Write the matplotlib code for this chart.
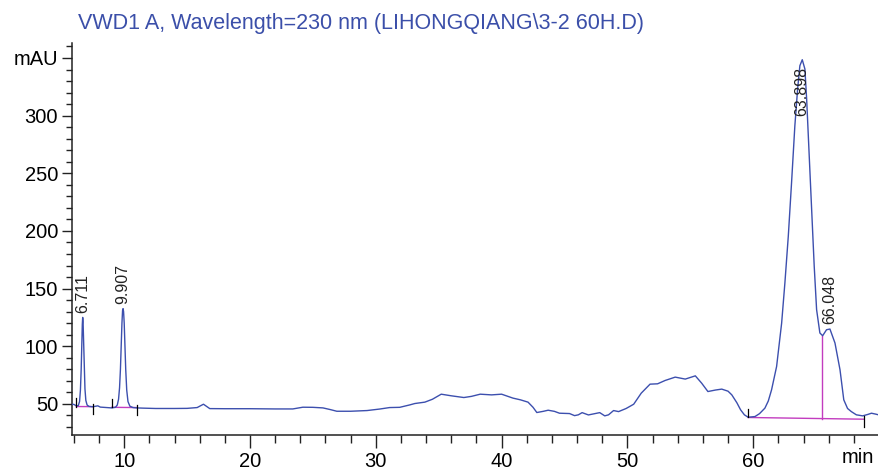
import matplotlib
matplotlib.use("Agg")
import matplotlib.pyplot as plt
from matplotlib.ticker import MultipleLocator, FixedLocator

plt.rcParams['font.family'] = ['Liberation Sans', 'DejaVu Sans']

title = "VWD1 A, Wavelength=230 nm (LIHONGQIANG\\3-2 60H.D)"

# chromatogram trace (time in min, signal in mAU)
time = [5.85, 6.0, 6.2, 6.35, 6.45, 6.52, 6.58, 6.63, 6.67, 6.70, 6.73, 6.77, 6.82,
        6.88, 6.95, 7.05, 7.2, 7.5, 7.9, 8.1, 8.6, 9.0, 9.3, 9.45, 9.55, 9.63, 9.70,
        9.76, 9.82, 9.87, 9.91, 9.95, 10.0, 10.06, 10.12, 10.2, 10.3, 10.45, 10.7,
        11.0, 11.5, 12.5, 14.0, 15.0, 15.8, 16.3, 16.8, 18.0, 20.0, 20.8, 22.0, 23.4,
        24.2, 25.0, 25.8, 26.4, 26.9, 28.0, 29.3, 30.3, 31.1, 31.9, 32.7, 33.1, 33.9,
        34.5, 35.2, 36.0, 37.0, 37.6, 38.3, 39.2, 40.0, 40.5, 40.9, 41.5, 42.1, 42.5,
        42.8, 43.3, 43.7, 44.2, 44.6, 45.4, 45.8, 46.1, 46.4, 46.9, 47.4, 47.8, 48.2,
        48.5, 48.9, 49.3, 49.9, 50.5, 51.1, 51.8, 52.4, 53.0, 53.8, 54.6, 55.4, 55.9,
        56.4, 57.0, 57.5, 58.0, 58.3, 58.7, 59.0, 59.3, 59.6, 60.14, 60.5, 60.93,
        61.2, 61.46, 61.86, 62.26, 62.52, 62.79, 63.05, 63.31, 63.53, 63.71, 63.9,
        64.11, 64.25, 64.43, 64.64, 64.85, 65.04, 65.3, 65.52, 65.83, 66.1, 66.5,
        66.9, 67.2, 67.5, 67.8, 68.2, 68.7, 69.1, 69.4, 69.7, 70.0]
signal = [49.7, 49.5, 48.3, 48.5, 52, 62, 80, 103, 119, 125, 121, 105, 82,
          63, 53, 49, 47.8, 47.5, 48.3, 47.2, 46.8, 46.5, 47, 49, 54, 64, 80,
          100, 120, 131, 132.6, 130, 120, 100, 80, 62, 52, 48, 46.8,
          46.5, 46.3, 46, 46, 46.1, 46.8, 49.7, 45.9, 45.8, 45.8, 45.7, 45.6, 45.6,
          47.1, 47, 46.5, 45, 43.6, 43.6, 44.2, 45.5, 46.8, 47, 49.1, 50.3, 51.5,
          54, 58.4, 57, 55.5, 56.5, 58.4, 57.8, 58.4, 56.5, 55, 53.5, 51.5, 47,
          42.5, 43.5, 44.5, 43.5, 41.9, 41.6, 39.8, 40.5, 42.4, 40.4, 41.5, 42.4, 39.6,
          40.5, 44.2, 43.3, 46, 49.7, 59.3, 67.1, 67.4, 70.3, 73.2, 71.5, 74.3, 68,
          60.7, 62, 62.8, 61, 57.8, 51, 44.8, 40.5, 38.4, 39.0, 41.5, 46.3,
          52.5, 62.2, 82.4, 120, 155, 195.5, 242, 291, 323, 343.3, 348.5,
          340.4, 314, 270.9, 218.7, 169.4, 131.7, 111.5, 109.1, 114.3, 114.9, 102.8,
          79.6, 53.5, 46, 43.3, 40.5, 39.6, 40.8, 41.9, 41.2, 40.4]

# peak annotations
peak_labels = ["6.711", "9.907", "63.898", "66.048"]
peak_times = [6.711, 9.907, 63.898, 66.048]
label_y = [129, 137, 342, 119]

# integration baselines: (start t, start mAU, end t, end mAU)
base_start_t = [6.2, 9.0, 59.6]
base_start_v = [47.7, 47.0, 38.2]
base_end_t = [7.5, 11.0, 68.8]
base_end_v = [47.6, 46.8, 36.7]
drop_t = 65.5
drop_top = 109.1

blue = '#3c4fae'
magenta = '#c23cbf'

fig = plt.figure(figsize=(8.79, 4.71), dpi=100)
ax = fig.add_axes([72/879, 36/471, 807/879, 392/471])

ax.plot(time, signal, color=blue, lw=1.0, zorder=3)

for s_t, s_v, e_t, e_v in zip(base_start_t, base_start_v, base_end_t, base_end_v):
    ax.plot([s_t, e_t], [s_v, e_v], color=magenta, lw=1.0, zorder=2)
    ax.plot([s_t, s_t], [s_v, s_v + 7.5], color='black', lw=0.9, zorder=4)
    ax.plot([e_t, e_t], [e_v + 2.5, e_v - 6.5], color='black', lw=0.9, zorder=4)

# drop line between the fused peaks
s_t, s_v, e_t, e_v = base_start_t[2], base_start_v[2], base_end_t[2], base_end_v[2]
drop_base = s_v + (e_v - s_v) * (drop_t - s_t) / (e_t - s_t)
ax.plot([drop_t, drop_t], [drop_base, drop_top], color=magenta, lw=1.0, zorder=2)

for lab, t, y in zip(peak_labels, peak_times, label_y):
    va = 'top' if y > 300 else 'bottom'
    ax.text(t, y, lab, rotation=90, ha='center', va=va, fontsize=11.5,
            color='#222222', zorder=5)

ax.set_xlim(5.85, 70.0)
ax.set_ylim(23, 363)

for sp in ['top', 'right']:
    ax.spines[sp].set_visible(False)
for sp in ['left', 'bottom']:
    ax.spines[sp].set_linewidth(1.1)
    ax.spines[sp].set_color('#222222')

ax.xaxis.set_major_locator(FixedLocator([10, 20, 30, 40, 50, 60]))
ax.xaxis.set_minor_locator(MultipleLocator(2))
ax.yaxis.set_major_locator(FixedLocator([50, 100, 150, 200, 250, 300, 350]))
ax.yaxis.set_minor_locator(MultipleLocator(10))
ax.set_yticklabels(['50', '100', '150', '200', '250', '300', 'mAU'])

ax.tick_params(axis='both', which='major', labelsize=14.5, direction='out',
               color='#222222', width=1.0)
ax.tick_params(axis='x', which='major', length=9, pad=3)
ax.tick_params(axis='x', which='minor', length=6, width=1.0, color='#222222')
ax.tick_params(axis='y', which='major', length=7, pad=3)
ax.tick_params(axis='y', which='minor', length=4.5, width=1.0, color='#222222')

fig.text(858/879, 1 - 463/471, 'min', ha='center', va='baseline', fontsize=14.5)
fig.text(78/879, 1 - 29.5/471, title, ha='left', va='baseline', fontsize=15.5,
         color='#3b4fa9')

fig.savefig('out.png', dpi=100)
